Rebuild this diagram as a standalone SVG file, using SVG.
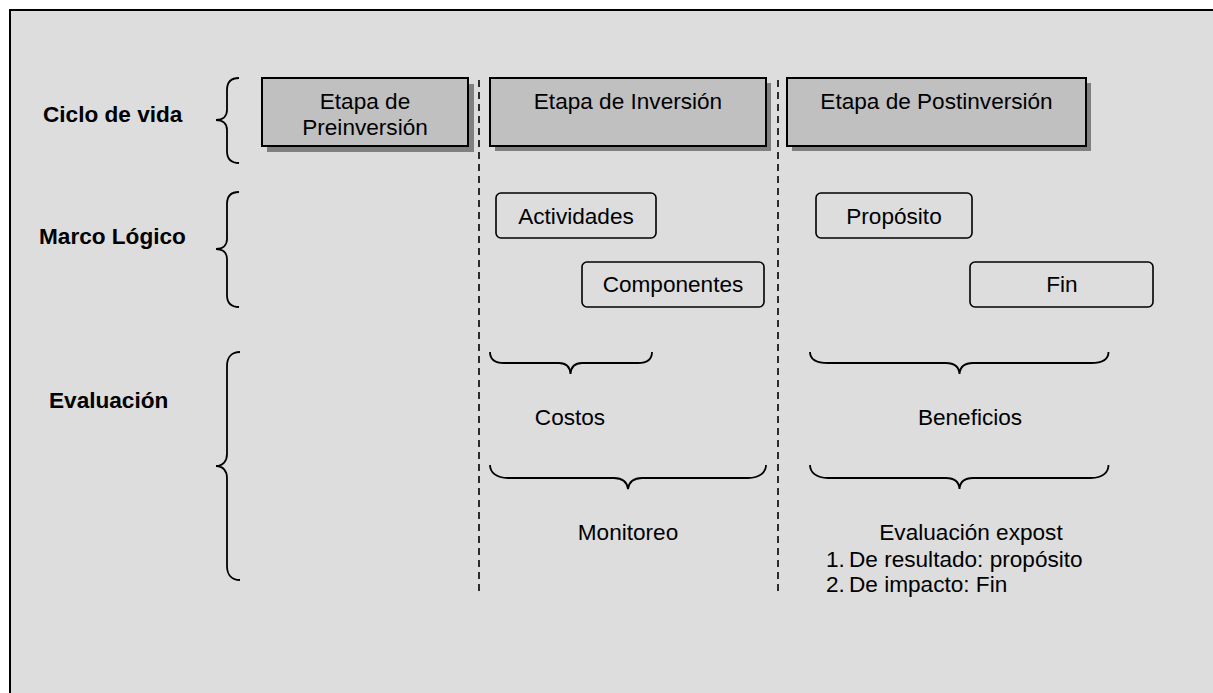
<svg xmlns="http://www.w3.org/2000/svg" width="1213" height="693" viewBox="0 0 1213 693">
<style>
text{font-family:"Liberation Sans",Arial,sans-serif;font-size:22.6px;fill:#000}
.lbl{font-weight:bold}
.c{text-anchor:middle}
.stage{fill:#c0c0c0;stroke:#000;stroke-width:2}
.shadow{fill:#808080}
.lf{fill:none;stroke:#000;stroke-width:1.6}
.brace{fill:none;stroke:#000;stroke-width:1.8}
.dash{stroke:#000;stroke-width:1.6;stroke-dasharray:7 5;fill:none}
</style>
<rect x="0" y="0" width="1213" height="693" fill="#ffffff"/>
<rect x="10" y="10" width="1220" height="700" fill="#dddddd" stroke="#000" stroke-width="2"/>

<g id="labels">
<text class="lbl" x="43" y="122">Ciclo de vida</text>
<text class="lbl" x="39" y="244">Marco Lógico</text>
<text class="lbl" x="49" y="408">Evaluación</text>
</g>

<g id="connectors">
<path class="brace" d="M239 78 C231 78 227 82 227 90 L227 110 C227 116 223 120 216 120 C223 120 227 124 227 130 L227 151 C227 159 231 163 239 163"/>
<path class="brace" d="M239 192 C231 192 227 196 227 204 L227 239 C227 245 223 249 216 249 C223 249 227 253 227 259 L227 295 C227 303 231 307 239 307"/>
<path class="brace" d="M240 352 C232 352 227 357 227 366 L227 454 C227 461 223 466 216 466 C223 466 227 471 227 478 L227 566 C227 575 232 580 240 580"/>
<line class="dash" x1="479" y1="80" x2="479" y2="596"/>
<line class="dash" x1="778" y1="80" x2="778" y2="594"/>
<path class="brace" d="M490 352 C490 359 495 363 504 363 L559 363 C566 363 570 367 570.5 374 C571 367 575 363 582 363 L638 363 C647 363 652 359 652 352"/>
<path class="brace" d="M810 352 C810 359 816 363 828 363 L946 363 C954 363 959 367 959.5 374 C960 367 965 363 973 363 L1091 363 C1103 363 1108.5 359 1108.5 352"/>
<path class="brace" d="M490 465 C490 472 496 478 508 478 L614 478 C622 478 627 482 628 489 C629 482 634 478 642 478 L748 478 C760 478 766 472 766 465"/>
<path class="brace" d="M810 465 C810 472 816 478 828 478 L946 478 C954 478 959 482 959.5 489 C960 482 965 478 973 478 L1091 478 C1103 478 1108.5 472 1108.5 465"/>
</g>

<g id="stage-pre">
<rect class="shadow" x="267" y="84" width="207" height="68"/>
<rect class="stage" x="262" y="78" width="206" height="68"/>
<text class="c" x="365" y="109">Etapa de</text>
<text class="c" x="365" y="135">Preinversión</text>
</g>
<g id="stage-inv">
<rect class="shadow" x="495" y="83" width="276" height="68"/>
<rect class="stage" x="490" y="78" width="276" height="68"/>
<text class="c" x="628" y="109">Etapa de Inversión</text>
</g>
<g id="stage-post">
<rect class="shadow" x="792" y="83" width="299" height="68"/>
<rect class="stage" x="787" y="78" width="299" height="68"/>
<text class="c" x="936.5" y="109">Etapa de Postinversión</text>
</g>

<g id="actividades">
<rect class="lf" x="496" y="193" width="160" height="45" rx="5"/>
<text class="c" x="576" y="224">Actividades</text>
</g>
<g id="componentes">
<rect class="lf" x="582" y="262" width="182" height="45" rx="5"/>
<text class="c" x="673" y="292">Componentes</text>
</g>
<g id="proposito">
<rect class="lf" x="816" y="193" width="156" height="45" rx="5"/>
<text class="c" x="894" y="224">Propósito</text>
</g>
<g id="fin">
<rect class="lf" x="970" y="262" width="183" height="45" rx="5"/>
<text class="c" x="1062" y="292">Fin</text>
</g>

<g id="costos"><text class="c" x="570" y="425">Costos</text></g>
<g id="beneficios"><text class="c" x="970" y="425">Beneficios</text></g>
<g id="monitoreo"><text class="c" x="628" y="540">Monitoreo</text></g>
<g id="expost">
<text class="c" x="971" y="540">Evaluación expost</text>
<text x="826" y="567">1.</text><text x="849" y="567">De resultado: propósito</text>
<text x="826" y="592">2.</text><text x="849" y="592">De impacto: Fin</text>
</g>
</svg>
